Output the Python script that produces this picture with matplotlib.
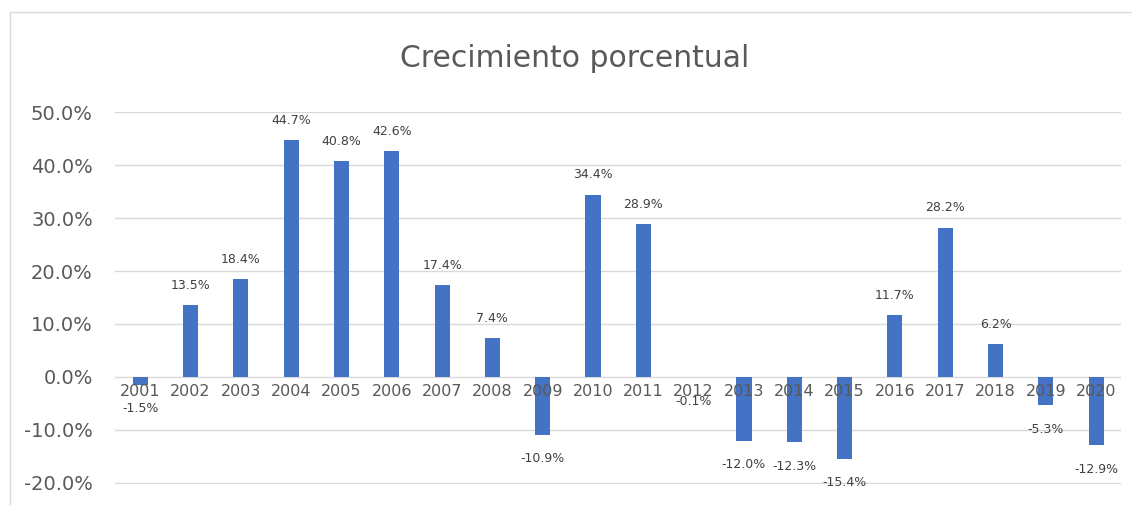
import matplotlib; matplotlib.use("Agg")
import matplotlib.pyplot as plt
import numpy as np
from matplotlib.patches import Rectangle

years = [str(y) for y in range(2001, 2021)]
growth = [-1.5, 13.5, 18.4, 44.7, 40.8, 42.6, 17.4, 7.4, -10.9, 34.4,
          28.9, -0.1, -12.0, -12.3, -15.4, 11.7, 28.2, 6.2, -5.3, -12.9]
yticks = [-20, -10, 0, 10, 20, 30, 40, 50]

BAR = "#4472C4"; GRID = "#d9d9d9"; TXT = "#595959"; LBL = "#404040"

fig = plt.figure(figsize=(11.32, 5.05), dpi=100)
fig.patches.append(Rectangle((0.009, -0.01), 1.0, 0.987, transform=fig.transFigure,
                             fill=False, edgecolor=GRID, lw=1))
ax = fig.add_axes([0.1016, 0.0416, 0.889, 0.7365])
xs = np.arange(len(years))
ax.bar(xs, growth, width=0.3, color=BAR, zorder=3)
ax.set_xlim(-0.5, len(years) - 0.5); ax.set_ylim(-20.2, 50)
ax.set_yticks(yticks)
ax.set_yticklabels([f"{v:.1f}%" for v in yticks], fontsize=14, color=TXT)
ax.yaxis.grid(True, color=GRID, lw=1, zorder=0)
ax.tick_params(axis="y", length=0, pad=16)
for s in ["left", "right", "top", "bottom"]:
    ax.spines[s].set_visible(False)
ax.set_xticks([])
for x, v, y in zip(xs, growth, years):
    ax.text(x, -1.3, y, ha="center", va="top", fontsize=11.5, color=TXT, zorder=4)
    if v >= 0:
        ax.text(x, v + 2.5, f"{v:.1f}%", ha="center", va="bottom", fontsize=9, color=LBL)
    else:
        ax.text(x, v - 3.3, f"{v:.1f}%", ha="center", va="top", fontsize=9, color=LBL)
fig.text(0.508, 0.885, "Crecimiento porcentual", ha="center", va="center", fontsize=21.5, color=TXT)
fig.savefig("out.png", dpi=100)
